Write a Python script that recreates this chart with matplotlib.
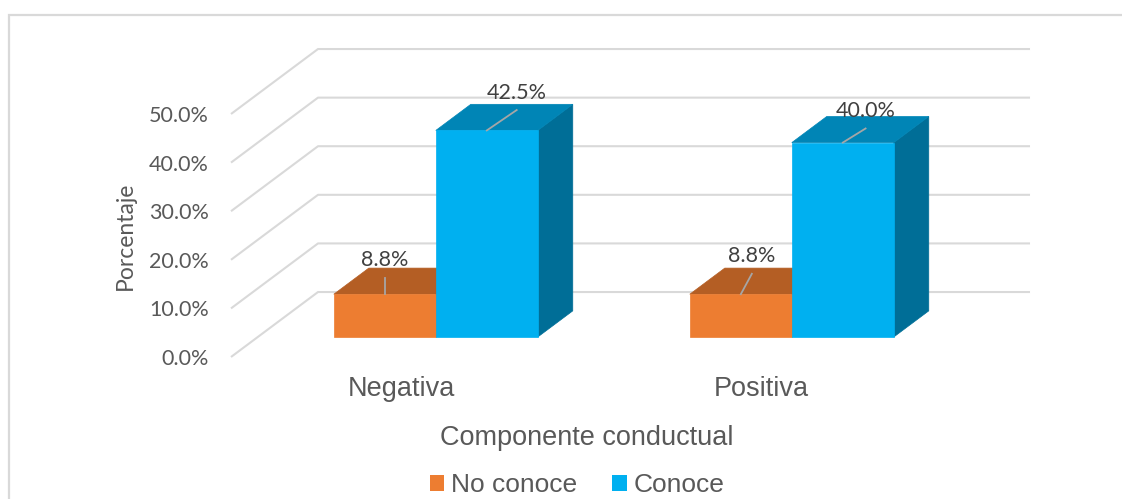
import matplotlib
matplotlib.use("Agg")
import matplotlib.pyplot as plt
from matplotlib.patches import Polygon, Rectangle
from matplotlib.ticker import FuncFormatter

# ---- data -------------------------------------------------------------
categories = ["Negativa", "Positiva"]
series_names = ["No conoce", "Conoce"]
no_conoce = [8.8, 8.8]
conoce = [42.5, 40.0]
y_ticks = [0, 10, 20, 30, 40, 50]

# ---- styling ----------------------------------------------------------
front_colors = ["#ED7D31", "#00B0F0"]
top_colors = ["#B45E24", "#0085B6"]
side_colors = ["#9A4F1C", "#006E97"]
grid_color = "#D9D9D9"
tick_color = "#595959"
label_color = "#404040"
tick_font = "Lato"
text_font = "Liberation Sans"
small_size = 15.5
big_size = 19.5

# oblique depth of the plot box (in x-units and y-units)
DX, DY = 0.2444, 13.37
F0, F1 = 0.308, 0.71          # bar front / back depth fractions
BAR_W = 0.2865                 # width of each bar in category units

# data label placement (x offset in category units, y offset in %)
label_offsets = [[(0.0, 7.0), (0.084, 7.8)],
                 [(0.031, 7.8), (0.064, 6.5)]]

fig = plt.figure(figsize=(11.22, 4.99), dpi=100)
W, H = 1122, 499
ax = fig.add_axes([231 / W, (H - 357) / H, 712 / W, 243 / H])
ax.set_xlim(0, 2)
ax.set_ylim(0, 50)
for s in ax.spines.values():
    s.set_visible(False)

# chart area border
fig.patches.append(Rectangle((8.5 / W, -0.02), 1.1, 1 - 14.5 / H + 0.02,
                             transform=fig.transFigure, fill=False,
                             edgecolor=grid_color, linewidth=1.6))


def shift(x, y, f):
    return (x + f * DX, y + f * DY)


# side wall + back wall gridlines
for t in y_ticks:
    ax.plot([0, DX, 2 + DX], [t, t + DY, t + DY], color=grid_color,
            linewidth=1.5, clip_on=False, zorder=1, solid_capstyle="butt")

# bars
values = [no_conoce, conoce]
for i, cat in enumerate(categories):
    center = i + 0.5
    for j, vals in enumerate(values):
        v = vals[i]
        xl = center - BAR_W + j * BAR_W
        xr = xl + BAR_W
        z = 3 + j
        side = [shift(xr, 0, F0), shift(xr, v, F0), shift(xr, v, F1), shift(xr, 0, F1)]
        top = [shift(xl, v, F0), shift(xr, v, F0), shift(xr, v, F1), shift(xl, v, F1)]
        front = [shift(xl, 0, F0), shift(xr, 0, F0), shift(xr, v, F0), shift(xl, v, F0)]
        for pts, col in ((side, side_colors[j]), (top, top_colors[j]),
                         (front, front_colors[j])):
            ax.add_patch(Polygon(pts, closed=True, facecolor=col,
                                 edgecolor=col, linewidth=0.5,
                                 clip_on=False, zorder=z))
        # data label with leader line
        bx, by = shift(center - BAR_W / 2 + j * BAR_W, v, F0)
        ox, oy = label_offsets[i][j]
        lx, ly = bx + ox, by + oy
        ax.plot([bx, lx], [by, ly - 3.6], color="#A6A6A6", linewidth=1.3,
                clip_on=False, zorder=6)
        ax.text(lx, ly, f"{v:.1f}%", ha="center", va="center",
                fontsize=small_size, family=tick_font, color=label_color,
                zorder=7, clip_on=False)

# y axis
ax.set_yticks(y_ticks)
ax.yaxis.set_major_formatter(FuncFormatter(lambda v, p: f"{v:.1f}%"))
ax.tick_params(axis="y", length=0, pad=16, labelcolor=tick_color,
               labelsize=small_size)
for lab in ax.get_yticklabels():
    lab.set_family(tick_font)
ax.set_ylabel("Porcentaje", fontsize=small_size + 1, family=tick_font,
              color=tick_color, va="center")
ax.yaxis.set_label_coords(-0.149, 0.5)

# x axis
ax.set_xticks([0.48, 1.49])
ax.set_xticklabels(categories)
ax.tick_params(axis="x", length=0, pad=14, labelcolor=tick_color,
               labelsize=big_size)
for lab in ax.get_xticklabels():
    lab.set_family(text_font)
ax.set_xlabel("Componente conductual", fontsize=big_size, family=text_font,
              color=tick_color, va="center")
ax.xaxis.set_label_coords(0.5, -0.335)

# legend
handles = [Rectangle((0, 0), 1, 1, facecolor=c, edgecolor="none")
           for c in front_colors]
leg = fig.legend(handles, series_names, loc="center",
                 bbox_to_anchor=(577 / W, 1 - 485 / H), ncol=2, frameon=False,
                 prop={"family": text_font, "size": 19},
                 handlelength=0.55, handleheight=0.55, handletextpad=0.25,
                 columnspacing=1.35, labelcolor=tick_color)

fig.savefig("out.png", dpi=100)
